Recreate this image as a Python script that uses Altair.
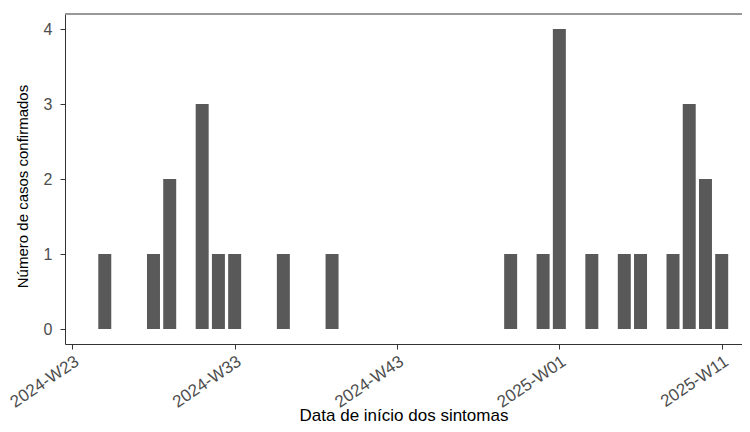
import altair as alt
import pandas as pd

# ---- data ----
weeks = ["2024-W25", "2024-W28", "2024-W29", "2024-W31", "2024-W32", "2024-W33",
         "2024-W36", "2024-W39", "2024-W50", "2024-W52",
         "2025-W01", "2025-W03", "2025-W05", "2025-W06", "2025-W08", "2025-W09",
         "2025-W10", "2025-W11"]
cases = [1, 1, 2, 3, 1, 1, 1, 1, 1, 1, 4, 1, 1, 1, 1, 3, 2, 1]
tick_labels = ["2024-W23", "2024-W33", "2024-W43", "2025-W01", "2025-W11"]
y_ticks = [0, 1, 2, 3, 4]


def week_index(label):
    year, wk = label.split("-W")
    return (int(year) - 2024) * 52 + int(wk) - 23


df = pd.DataFrame({"semana": weeks, "casos": cases,
                   "idx": [week_index(w) for w in weeks]})
tick_vals = [week_index(t) for t in tick_labels]
label_expr = " : ".join(f"datum.value == {v} ? '{t}'" for v, t in zip(tick_vals, tick_labels)) + " : ''"

FONT = "Liberation Sans"

bars = alt.Chart(df).transform_calculate(
    x0="datum.idx - 0.4", x1="datum.idx + 0.4"
).mark_bar(color="#595959").encode(
    x=alt.X("x0:Q",
            scale=alt.Scale(domain=[-0.45, 41.25], nice=False, zero=False),
            axis=alt.Axis(values=tick_vals, labelExpr=label_expr,
                          title="Data de início dos sintomas",
                          labelAngle=326, labelAlign="right", labelBaseline="top",
                          labelFontSize=17, labelColor="#4d4d4d", labelPadding=4,
                          labelFlush=False, labelOverlap=False,
                          tickSize=5, tickColor="#333333", domainColor="#333333",
                          titleFontSize=17, titleColor="#000000", titleFontWeight="normal",
                          titleBaseline="alphabetic", titleY=76, grid=False)),
    x2="x1:Q",
    y=alt.Y("casos:Q",
            scale=alt.Scale(domain=[-0.2, 4.2], nice=False, zero=False),
            axis=alt.Axis(values=y_ticks, format="d",
                          title="Número de casos confirmados",
                          labelFontSize=16, labelColor="#4d4d4d", labelPadding=8,
                          tickSize=5, tickColor="#333333", domainColor="#333333",
                          titleFontSize=15, titleColor="#000000", titleFontWeight="normal",
                          titleAngle=270, titleX=-38, titleY=172,
                          titleBaseline="alphabetic", titleAlign="center", grid=False)),
    y2=alt.datum(0),
    tooltip=["semana:N", "casos:Q"],
)

top_line = alt.Chart(df).mark_rule(color="#999999", strokeWidth=1.5).encode(
    y=alt.value(0)
)

chart = alt.layer(bars, top_line).properties(
    width=677, height=330,
    autosize=alt.AutoSizeParams(type="none"),
    padding={"left": 57, "top": 6, "right": 0, "bottom": 80},
).configure(font=FONT).configure_view(stroke=None).configure_axis(
    labelFont=FONT, titleFont=FONT
)

chart.save("out.html", embed_options={"renderer": "svg", "actions": False})
